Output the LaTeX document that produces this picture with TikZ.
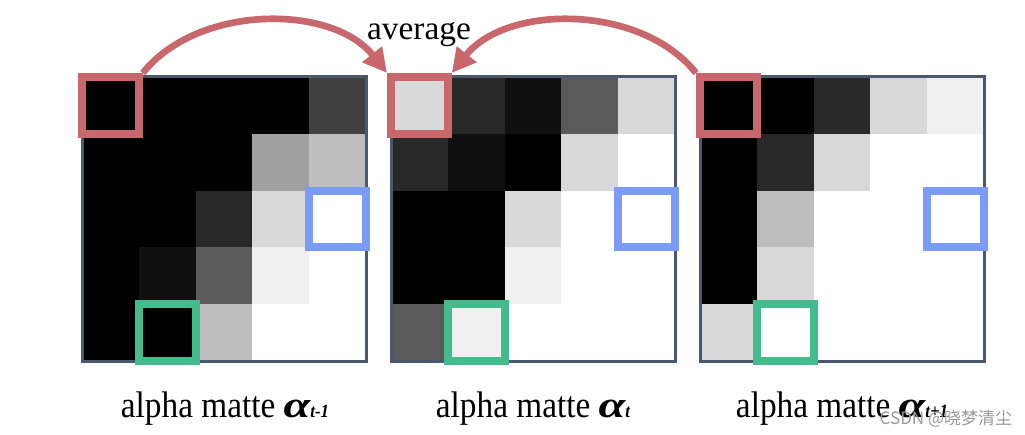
\documentclass[tikz,border=0pt]{standalone}
\usepackage{graphicx}
\usepackage{fontspec}
\setmainfont{Liberation Serif}
\newfontfamily\labfont[FakeStretch=0.9]{Liberation Serif}
\newfontfamily\cjkfont{Noto Sans CJK SC}
\usetikzlibrary{arrows.meta}
\definecolor{hred}{HTML}{C8686C}
\definecolor{hblue}{HTML}{7A9CF8}
\definecolor{hgreen}{HTML}{44BB8C}
\definecolor{framecol}{HTML}{4C5870}
\newcommand\mattegrid[2]{%
  \foreach \v [count=\i from 0] in {#2} {%
    \pgfmathtruncatemacro\mcol{mod(\i,5)}%
    \pgfmathtruncatemacro\mrow{div(\i,5)}%
    \fill[fill={rgb,255:red,\v;green,\v;blue,\v}] (#1+\mcol*56.8,77+\mrow*56.8) rectangle ++(57.2,57.2);
  }%
}
\newcommand\malpha[1]{{\bfseries\itshape\scalebox{1.45}[1]{α}}{\bfseries\itshape\fontsize{14}{16}\selectfont #1}}
\begin{document}
\begin{tikzpicture}[x=0.75pt,y=-0.75pt,
  panelframe/.style={draw=framecol,line width=2.25pt,minimum width=213pt,minimum height=213pt,inner sep=0pt},
  hl/.style={draw=#1,line width=6pt,minimum width=42.6pt,minimum height=42.6pt,inner sep=0pt},
  avgarrow/.style={draw=hred,line width=5pt,-{Triangle[length=18pt,width=18pt]}},
  lab/.style={anchor=base,font=\labfont\fontsize{27.75}{30}\selectfont}
]
\fill[white] (0,0) rectangle (1025,435);
\useasboundingbox (0,0) rectangle (1025,435);
% grids
\mattegrid{82}{0,0,0,0,64, 0,0,0,160,190, 0,0,40,216,255, 0,16,92,240,255, 0,0,190,255,255}
\mattegrid{391}{216,40,16,90,216, 40,16,0,216,255, 0,0,216,255,255, 0,0,240,255,255, 90,240,255,255,255}
\mattegrid{700}{0,0,40,216,240, 0,40,216,255,255, 0,190,255,255,255, 0,216,255,255,255, 216,255,255,255,255}
% frames
\node[panelframe] (p1) at (224,219) {};
\node[panelframe] (p2) at (533,219) {};
\node[panelframe] (p3) at (842,219) {};
% highlight boxes
\node[hl=hred] (r1) at (110.4,105.4) {};
\node[hl=hblue] (b1) at (337.6,219) {};
\node[hl=hgreen] (g1) at (167.2,332.6) {};
\node[hl=hred] (r2) at (419.4,105.4) {};
\node[hl=hblue] (b2) at (646.6,219) {};
\node[hl=hgreen] (g2) at (476.2,332.6) {};
\node[hl=hred] (r3) at (728.4,105.4) {};
\node[hl=hblue] (b3) at (955.6,219) {};
\node[hl=hgreen] (g3) at (785.2,332.6) {};
% arrows
\draw[avgarrow] (r1.north east) .. controls +(55,-69) and +(-55,-69) .. (r2.north west);
\draw[avgarrow] (r3.north west) .. controls +(-55,-69) and +(55,-69) .. (r2.north east);
% texts
\node[anchor=base,font=\fontsize{25}{28}\selectfont] (avg) at (419,40) {average};
\node[lab] (l1) at (225,417.7) {alpha matte \malpha{t-1}};
\node[lab] (l2) at (533,417.7) {alpha matte \malpha{t}};
\node[lab] (l3) at (842,417.7) {alpha matte \malpha{t+1}};
\node[anchor=base west,font=\cjkfont\fontsize{12.75}{14}\selectfont,text=black!40] (wm) at (875,424) {CSDN @晓梦清尘};
\end{tikzpicture}
\end{document}
